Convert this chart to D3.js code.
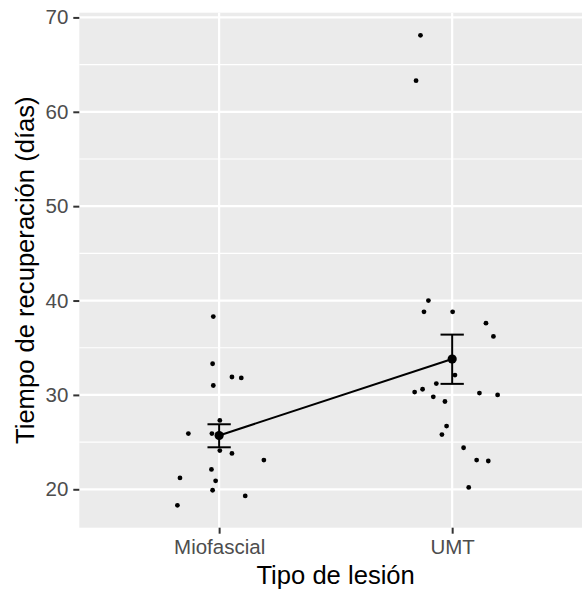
<!DOCTYPE html>
<html>
<head>
<meta charset="utf-8">
<script src="https://cdn.jsdelivr.net/npm/d3@7"></script>
<style>
  body { margin: 0; background: #fff; }
  svg { display: block; font-family: "Liberation Sans", Arial, sans-serif; }
</style>
</head>
<body>
<div id="chart"></div>
<script>
// groups on the x axis
const categories = ["Miofascial", "UMT"];

// recovery days per patient
const miofascialDays = [38.3, 33.3, 31.9, 31.8, 31.0, 27.3, 25.9, 25.9, 24.1, 23.8, 23.1, 22.1, 21.2, 20.9, 19.9, 19.3, 18.3];
const miofascialJitter = [-0.025, -0.028, 0.055, 0.095, -0.025, 0.003, -0.132, -0.031, 0.003, 0.055, 0.192, -0.033, -0.168, -0.015, -0.028, 0.112, -0.179];
const umtDays = [68.1, 63.3, 40.0, 38.8, 38.8, 37.6, 36.2, 32.1, 31.2, 30.3, 30.6, 29.8, 29.3, 30.2, 30.0, 26.7, 25.8, 24.4, 23.1, 23.0, 20.2];
const umtJitter = [-0.136, -0.155, -0.102, -0.121, 0.002, 0.145, 0.177, 0.012, -0.068, -0.161, -0.127, -0.081, -0.031, 0.117, 0.195, -0.024, -0.044, 0.049, 0.105, 0.155, 0.071];

// summary: mean and error bar limits per group
const groupMeans = [25.7, 33.8];
const errLower = [24.45, 31.17];
const errUpper = [26.89, 36.39];

const yTicks = [20, 30, 40, 50, 60, 70];
const yMinorTicks = [25, 35, 45, 55, 65];

const width = 582, height = 597;
// panel box (the original plot runs a little past the right edge)
const panel = {left: 79.3, right: 592, top: 12.7, bottom: 527.7};

const svg = d3.select("#chart").append("svg")
  .attr("width", width)
  .attr("height", height);

const x = d3.scaleLinear().domain([0.4, 2.6]).range([panel.left, panel.right]);
const y = d3.scaleLinear().domain([15.93, 70.5]).range([panel.bottom, panel.top]);

svg.append("rect")
  .attr("x", panel.left).attr("y", panel.top)
  .attr("width", panel.right - panel.left)
  .attr("height", panel.bottom - panel.top)
  .attr("fill", "#EBEBEB");

const grid = svg.append("g");
grid.selectAll(".minor").data(yMinorTicks).join("line")
  .attr("x1", panel.left).attr("x2", panel.right)
  .attr("y1", d => y(d)).attr("y2", d => y(d))
  .attr("stroke", "#fff").attr("stroke-width", 1.1);
grid.selectAll(".majorY").data(yTicks).join("line")
  .attr("x1", panel.left).attr("x2", panel.right)
  .attr("y1", d => y(d)).attr("y2", d => y(d))
  .attr("stroke", "#fff").attr("stroke-width", 2.2);
grid.selectAll(".majorX").data(categories).join("line")
  .attr("x1", (d, i) => x(i + 1)).attr("x2", (d, i) => x(i + 1))
  .attr("y1", panel.top).attr("y2", panel.bottom)
  .attr("stroke", "#fff").attr("stroke-width", 2.2);

// jittered raw points
const points = [];
miofascialDays.forEach((v, i) => points.push({g: 1 + miofascialJitter[i], v: v}));
umtDays.forEach((v, i) => points.push({g: 2 + umtJitter[i], v: v}));

svg.append("g").selectAll("circle").data(points).join("circle")
  .attr("cx", d => x(d.g))
  .attr("cy", d => y(d.v))
  .attr("r", 2.4)
  .attr("fill", "#000");

// line through the means
const summary = categories.map((c, i) => ({i: i + 1, m: groupMeans[i], lo: errLower[i], hi: errUpper[i]}));
svg.append("path")
  .datum(summary)
  .attr("d", d3.line().x(d => x(d.i)).y(d => y(d.m)))
  .attr("fill", "none")
  .attr("stroke", "#000")
  .attr("stroke-width", 2);

const eb = svg.append("g").selectAll("g").data(summary).join("g")
  .attr("stroke", "#000").attr("stroke-width", 2);
eb.append("line")
  .attr("x1", d => x(d.i)).attr("x2", d => x(d.i))
  .attr("y1", d => y(d.lo)).attr("y2", d => y(d.hi));
eb.append("line")
  .attr("x1", d => x(d.i - 0.05)).attr("x2", d => x(d.i + 0.05))
  .attr("y1", d => y(d.lo)).attr("y2", d => y(d.lo));
eb.append("line")
  .attr("x1", d => x(d.i - 0.05)).attr("x2", d => x(d.i + 0.05))
  .attr("y1", d => y(d.hi)).attr("y2", d => y(d.hi));

svg.append("g").selectAll("circle").data(summary).join("circle")
  .attr("cx", d => x(d.i))
  .attr("cy", d => y(d.m))
  .attr("r", 4.6)
  .attr("fill", "#000");

// y axis
const yAxis = svg.append("g").attr("transform", `translate(${panel.left},0)`)
  .call(d3.axisLeft(y).tickValues(yTicks).tickSize(6).tickPadding(5));
yAxis.select(".domain").remove();
yAxis.selectAll(".tick line").attr("stroke", "#333").attr("stroke-width", 2);
yAxis.selectAll(".tick text")
  .attr("fill", "#4D4D4D")
  .attr("font-size", "20.5px")
  .attr("font-family", "Liberation Sans, Arial, sans-serif");

// x axis
const xAxis = svg.append("g").attr("transform", `translate(0,${panel.bottom})`)
  .call(d3.axisBottom(x).tickValues([1, 2]).tickFormat(d => categories[d - 1]).tickSize(6).tickPadding(6));
xAxis.select(".domain").remove();
xAxis.selectAll(".tick line").attr("stroke", "#333").attr("stroke-width", 2);
xAxis.selectAll(".tick text")
  .attr("fill", "#4D4D4D")
  .attr("font-size", "20.5px")
  .attr("font-family", "Liberation Sans, Arial, sans-serif");

svg.append("text")
  .attr("x", (panel.left + panel.right) / 2)
  .attr("y", 584)
  .attr("text-anchor", "middle")
  .attr("font-size", "25.6px")
  .attr("fill", "#000")
  .text("Tipo de lesión");

svg.append("text")
  .attr("transform", `translate(34,${(panel.top + panel.bottom) / 2}) rotate(-90)`)
  .attr("text-anchor", "middle")
  .attr("font-size", "25.6px")
  .attr("fill", "#000")
  .text("Tiempo de recuperación (días)");
</script>
</body>
</html>
